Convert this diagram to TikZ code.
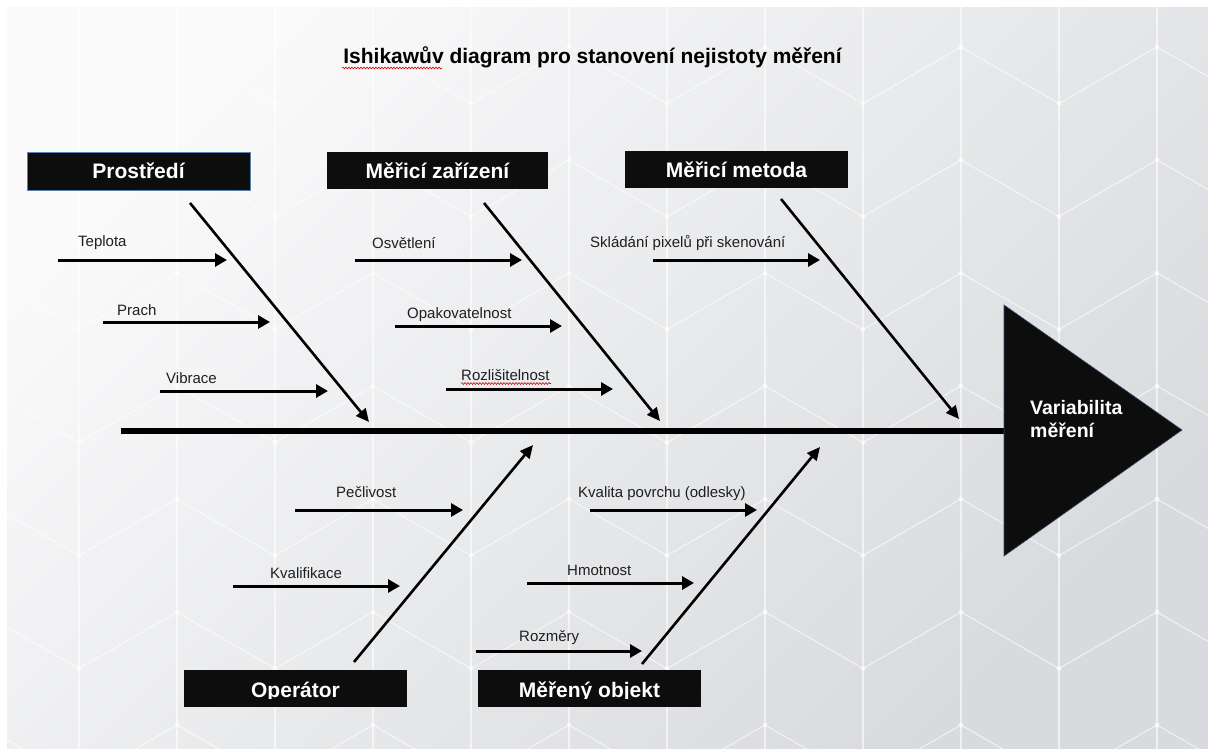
\documentclass[tikz,border=0pt]{standalone}
\usepackage{fontspec}
\setmainfont{Liberation Sans}
\usetikzlibrary{arrows.meta,decorations.pathmorphing}
\definecolor{boxfill}{HTML}{0D0D0D}
\definecolor{boxedge}{HTML}{5B82AE}
\definecolor{bgl}{HTML}{FAFAFB}
\definecolor{bgr}{HTML}{D8DADD}
\definecolor{lbl}{HTML}{1F1F1F}
\definecolor{trioutline}{HTML}{2F4B6B}
\tikzset{
  hexline/.style={white, line width=1.1pt, opacity=0.6},
  catbox/.style={fill=boxfill, inner sep=0pt, text=white,
     font=\bfseries\fontsize{21}{24}\selectfont},
  rib/.style={line width=2.6pt, -{Triangle[length=13pt,width=12pt]}},
  sub/.style={line width=3pt, -{Triangle[length=12pt,width=13pt]}},
  cause/.style={anchor=west, inner sep=0pt, text=lbl, font=\fontsize{15}{18}\selectfont},
  squiggle/.style={red!85!black, line width=0.6pt, decorate,
     decoration={snake, amplitude=0.9pt, segment length=3pt}}
}
\begin{document}
\begin{tikzpicture}[x=1pt,y=-1pt]
\useasboundingbox (0,0) rectangle (1208,749);
\fill[white] (0,0) rectangle (1208,749);
% background with hexagonal pattern
\begin{scope}
  \clip (7,8) rectangle (1208,749);
  \shade[top color=bgl, bottom color=bgr, shading angle=45] (7,8) rectangle (1208,749);
  \foreach \k in {-1,...,12} {
    \draw[hexline] ({79+98*\k},0) -- ({79+98*\k},760);
  }
  \foreach \j in {-1,...,7} {
    \foreach \k in {-1,1,...,13} {
      \draw[hexline] ({79+98*(\k-1)},{47+113*\j+56.5}) -- ({79+98*\k},{47+113*\j}) -- ({79+98*(\k+1)},{47+113*\j+56.5});
      \fill[white, opacity=0.6] ({79+98*\k},{47+113*\j}) circle (2.4pt);
      \fill[white, opacity=0.6] ({79+98*(\k+1)},{47+113*\j+56.5}) circle (2.4pt);
    }
  }
\end{scope}

% title
\node[font=\bfseries\fontsize{21}{24}\selectfont, inner sep=0pt] (title) at (592.5,57) {Ishikawův diagram pro stanovení nejistoty měření};
\draw[squiggle] (342,68) -- (442,68);

% category boxes (top)
\node[catbox, draw=boxedge, line width=0.9pt, minimum width=223pt, minimum height=38pt] (prostredi) at (138.5,171) {Prostředí};
\node[catbox, minimum width=221pt, minimum height=37pt] (zarizeni) at (437.5,170.5) {Měřicí zařízení};
\node[catbox, minimum width=223pt, minimum height=37pt] (metoda) at (736.5,169.5) {Měřicí metoda};

% category boxes (bottom), text clipped at the baseline
\node[catbox, minimum width=223pt, minimum height=37pt] (operator) at (295.5,688.5) {};
\node[catbox, minimum width=223pt, minimum height=37pt] (objekt) at (589.5,688.5) {};
\begin{scope}
  \clip (184,670) rectangle (701,698);
  \node[anchor=base, inner sep=0pt, text=white, font=\bfseries\fontsize{21}{24}\selectfont] (operatortext) at (295.5,697.5) {Operátor};
  \node[anchor=base, inner sep=0pt, text=white, font=\bfseries\fontsize{21}{24}\selectfont] (objekttext) at (589.5,697.5) {Měřený objekt};
\end{scope}

% spine and head
\coordinate (tail) at (121,431);
\coordinate (headbase) at (1005,431);
\draw[line width=6.5pt] (tail) -- (headbase);
\fill[boxfill, draw=trioutline, line width=0.6pt] (1004,305) -- (1182,430) -- (1004,556) -- cycle;
\node[anchor=west, align=left, inner sep=0pt, text=white, font=\bfseries\fontsize{19.5}{23.5}\selectfont] (effect) at (1030,419) {Variabilita\\měření};

% ribs
\coordinate (r1s) at (190,203); \coordinate (r1e) at (369,422);
\coordinate (r2s) at (484,203); \coordinate (r2e) at (660,421);
\coordinate (r3s) at (781,199); \coordinate (r3e) at (959,419);
\coordinate (r4s) at (354,662); \coordinate (r4e) at (533,445);
\coordinate (r5s) at (642,664); \coordinate (r5e) at (820,447);
\draw[rib] (r1s) -- (r1e);
\draw[rib] (r2s) -- (r2e);
\draw[rib] (r3s) -- (r3e);
\draw[rib] (r4s) -- (r4e);
\draw[rib] (r5s) -- (r5e);

% causes: Prostředí
\coordinate (a1s) at (58,260);  \coordinate (a1e) at (227,260);
\coordinate (a2s) at (103,322); \coordinate (a2e) at (270,322);
\coordinate (a3s) at (160,391); \coordinate (a3e) at (328,391);
\draw[sub] (a1s) -- (a1e);
\draw[sub] (a2s) -- (a2e);
\draw[sub] (a3s) -- (a3e);
\node[cause] (teplota) at (78,243) {Teplota};
\node[cause] (prach) at (117,310) {Prach};
\node[cause] (vibrace) at (166,378) {Vibrace};

% causes: Měřicí zařízení
\coordinate (b1s) at (355,260); \coordinate (b1e) at (522,260);
\coordinate (b2s) at (395,326); \coordinate (b2e) at (562,326);
\coordinate (b3s) at (446,389); \coordinate (b3e) at (613,389);
\draw[sub] (b1s) -- (b1e);
\draw[sub] (b2s) -- (b2e);
\draw[sub] (b3s) -- (b3e);
\node[cause] (osvetleni) at (372,243) {Osvětlení};
\node[cause] (opakovatelnost) at (407,315) {Opakovatelnost};
\node[cause] (rozlisitelnost) at (461,375) {Rozlišitelnost};
\draw[squiggle] (461,383.5) -- (551,383.5);

% causes: Měřicí metoda
\coordinate (c1s) at (653,260); \coordinate (c1e) at (820,260);
\draw[sub] (c1s) -- (c1e);
\node[cause] (skladani) at (590,243) {Skládání pixelů při skenování};

% causes: Operátor
\coordinate (d1s) at (295,510); \coordinate (d1e) at (463,510);
\coordinate (d2s) at (233,586); \coordinate (d2e) at (400,586);
\draw[sub] (d1s) -- (d1e);
\draw[sub] (d2s) -- (d2e);
\node[cause] (peclivost) at (336,492) {Pečlivost};
\node[cause] (kvalifikace) at (270,573) {Kvalifikace};

% causes: Měřený objekt
\coordinate (e1s) at (590,510); \coordinate (e1e) at (757,510);
\coordinate (e2s) at (527,583); \coordinate (e2e) at (694,583);
\coordinate (e3s) at (476,651); \coordinate (e3e) at (642,651);
\draw[sub] (e1s) -- (e1e);
\draw[sub] (e2s) -- (e2e);
\draw[sub] (e3s) -- (e3e);
\node[cause] (kvalita) at (578,494) {Kvalita povrchu (odlesky)};
\node[cause] (hmotnost) at (567,570) {Hmotnost};
\node[cause] (rozmery) at (519,638) {Rozměry};
\end{tikzpicture}
\end{document}
